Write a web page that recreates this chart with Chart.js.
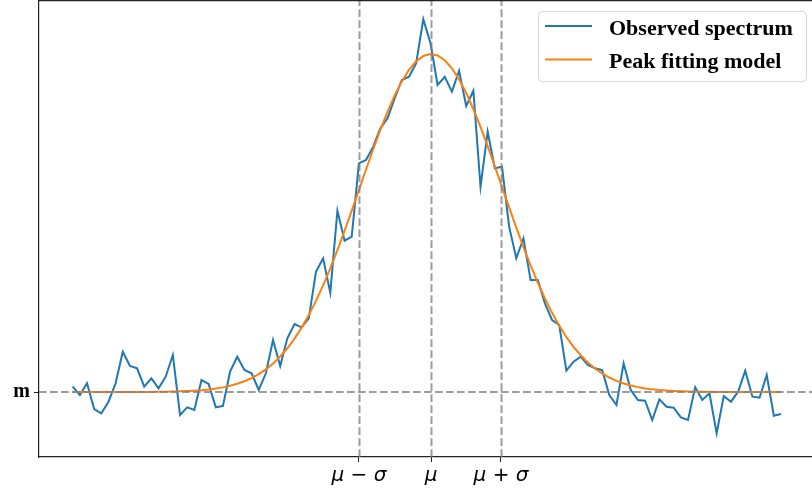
<!DOCTYPE html>
<html>
<head>
<meta charset="utf-8">
<script src="https://cdn.jsdelivr.net/npm/chart.js@4.4.0/dist/chart.umd.min.js"></script>
<style>
  html, body { margin: 0; padding: 0; background: #fff; }
  #wrap { width: 812px; height: 491px; position: relative; }
</style>
</head>
<body>
<div id="wrap"><canvas id="c" width="812" height="491"></canvas></div>
<script>
// ---- data ----
const seriesNames = ["Observed spectrum", "Peak fitting model"];
const observed = [
  1.57, -0.89, 2.57, -5.03, -6.30, -2.87, 2.57, 11.92, 7.69, 7.01,
  1.57, 4.05, 1.09, 4.53, 10.95, -6.80, -4.53, -5.33, 3.55, 2.37,
  -4.53, -4.14, 6.01, 10.44, 6.51, 5.53, 0.59, 5.53, 15.38, 7.69,
  15.89, 20.12, 19.14, 21.80, 35.59, 39.56, 29.38, 53.64, 44.76, 45.95,
  67.66, 68.64, 72.57, 78.02, 80.98, 86.89, 92.31, 93.28, 97.25, 110.27,
  103.25, 90.83, 93.28, 88.85, 95.06, 84.62, 89.14, 60.74, 77.01, 66.18,
  66.66, 48.91, 39.56, 45.47, 33.14, 33.14, 26.24, 21.30, 19.82, 6.30,
  8.96, 10.44, 7.99, 7.01, 6.51, -0.89, -3.85, 8.49, 0.59, -2.37,
  -2.57, -8.28, -2.16, -4.35, -4.64, -7.49, -8.28, 1.39, -2.37, -0.38,
  -12.22, -1.18, -2.87, 0.09, 6.30, -1.39, -1.69, 5.03, -7.01, -6.51
];
const fitted = [
  0.00, 0.00, 0.00, 0.00, 0.00, 0.00, 0.00, 0.00, 0.01, 0.01,
  0.02, 0.03, 0.05, 0.08, 0.13, 0.19, 0.28, 0.39, 0.54, 0.74,
  1.02, 1.37, 1.84, 2.43, 3.18, 4.12, 5.29, 6.71, 8.44, 10.51,
  12.94, 15.79, 19.05, 22.78, 26.95, 31.57, 36.60, 42.00, 47.71, 53.66,
  59.74, 65.83, 71.82, 77.56, 82.90, 87.73, 91.90, 95.30, 97.83, 99.41,
  100.00, 99.57, 98.15, 95.77, 92.50, 88.45, 83.72, 78.44, 72.75, 66.80,
  60.71, 54.62, 48.65, 42.89, 37.43, 32.34, 27.66, 23.42, 19.62, 16.28,
  13.37, 10.87, 8.75, 6.97, 5.49, 4.29, 3.31, 2.53, 1.92, 1.44,
  1.07, 0.78, 0.57, 0.41, 0.29, 0.21, 0.14, 0.10, 0.07, 0.05,
  0.03, 0.02, 0.01, 0.01, 0.00, 0.00, 0.00, 0.00, 0.00, 0.00
];
const xTickValues = [40.01, 50.08, 59.86];          // mu - sigma, mu, mu + sigma
const xTickLabels = ["\u03BC \u2212 \u03C3", "\u03BC", "\u03BC + \u03C3"];
const yTickValues = [0];                              // baseline m
const yTickLabels = ["m"];

// ---- build ----
const toPoints = arr => arr.map((v, i) => ({ x: i, y: v }));

const refLines = {
  id: 'refLines',
  afterDatasetsDraw(chart) {
    const { ctx, chartArea: a, scales: { x, y } } = chart;
    ctx.save();
    ctx.strokeStyle = 'rgba(128,128,128,0.78)';
    ctx.lineWidth = 2;
    ctx.setLineDash([7.7, 3.3]);
    xTickValues.forEach(v => {
      const px = Math.round(x.getPixelForValue(v)) + 0.5;
      ctx.beginPath(); ctx.moveTo(px, a.bottom); ctx.lineTo(px, a.top); ctx.stroke();
    });
    yTickValues.forEach(v => {
      const py = Math.round(y.getPixelForValue(v));
      ctx.beginPath(); ctx.moveTo(a.left, py); ctx.lineTo(a.right, py); ctx.stroke();
    });
    ctx.restore();
  },
  afterDraw(chart) {
    const { ctx, chartArea: a } = chart;
    ctx.save();
    // top spine
    ctx.strokeStyle = '#222';
    ctx.lineWidth = 1.2;
    ctx.beginPath(); ctx.moveTo(a.left - 0.5, 0.6); ctx.lineTo(a.right, 0.6); ctx.stroke();
    // legend
    const bx = 538.5, by = 11.5, bw = 268, bh = 70, r = 4;
    ctx.beginPath();
    ctx.moveTo(bx + r, by);
    ctx.lineTo(bx + bw - r, by); ctx.arcTo(bx + bw, by, bx + bw, by + r, r);
    ctx.lineTo(bx + bw, by + bh - r); ctx.arcTo(bx + bw, by + bh, bx + bw - r, by + bh, r);
    ctx.lineTo(bx + r, by + bh); ctx.arcTo(bx, by + bh, bx, by + bh - r, r);
    ctx.lineTo(bx, by + r); ctx.arcTo(bx, by, bx + r, by, r);
    ctx.closePath();
    ctx.fillStyle = 'rgba(255,255,255,0.85)';
    ctx.fill();
    ctx.strokeStyle = '#d6d6d6';
    ctx.lineWidth = 1;
    ctx.stroke();
    const colors = ['#1f77b4', '#ff7f0e'];
    const rowsY = [26, 59.5];
    const textY = [34.5, 68];
    ctx.font = 'bold 22px "Liberation Serif", "Times New Roman", serif';
    ctx.textBaseline = 'alphabetic';
    ctx.textAlign = 'left';
    seriesNames.forEach((name, i) => {
      ctx.strokeStyle = colors[i];
      ctx.lineWidth = 2;
      ctx.beginPath(); ctx.moveTo(545, rowsY[i]); ctx.lineTo(592, rowsY[i]); ctx.stroke();
      ctx.fillStyle = '#000';
      ctx.fillText(name, 609, textY[i]);
    });
    ctx.restore();
  }
};

new Chart(document.getElementById('c'), {
  type: 'line',
  data: {
    datasets: [
      { label: seriesNames[0], data: toPoints(observed), borderColor: '#1f77b4',
        borderWidth: 2, pointRadius: 0, tension: 0, fill: false, order: 2 },
      { label: seriesNames[1], data: toPoints(fitted), borderColor: '#ff7f0e',
        borderWidth: 2, pointRadius: 0, tension: 0, fill: false, order: 1 }
    ]
  },
  options: {
    responsive: false,
    animation: false,
    layout: { padding: 0 },
    plugins: { legend: { display: false }, tooltip: { enabled: false } },
    scales: {
      x: {
        type: 'linear', min: -4.71, max: 103.33,
        afterBuildTicks: s => { s.ticks = xTickValues.map(v => ({ value: v })); },
        afterFit: s => { s.height = 34; s.paddingLeft = 0; s.paddingRight = 0; },
        ticks: {
          autoSkip: false, maxRotation: 0, padding: 2, color: '#000',
          font: { family: '"DejaVu Sans"', size: 20, style: 'italic' },
          callback: (v, i) => xTickLabels[i]
        },
        grid: { drawOnChartArea: false, drawTicks: true, tickLength: 5, tickColor: '#222', tickWidth: 1 },
        border: { display: true, color: '#222', width: 1.2 }
      },
      y: {
        type: 'linear', min: -19.23, max: 115.98,
        afterBuildTicks: s => { s.ticks = yTickValues.map(v => ({ value: v })); },
        afterFit: s => { s.width = 39; s.paddingTop = 0; s.paddingBottom = 0; },
        ticks: {
          autoSkip: false, padding: 4, color: '#000',
          font: { family: '"Liberation Serif"', size: 20, weight: 'bold' },
          callback: (v, i) => yTickLabels[i]
        },
        grid: { drawOnChartArea: false, drawTicks: true, tickLength: 5, tickColor: '#222', tickWidth: 1 },
        border: { display: true, color: '#222', width: 1.2 }
      }
    }
  },
  plugins: [refLines]
});
</script>
</body>
</html>
